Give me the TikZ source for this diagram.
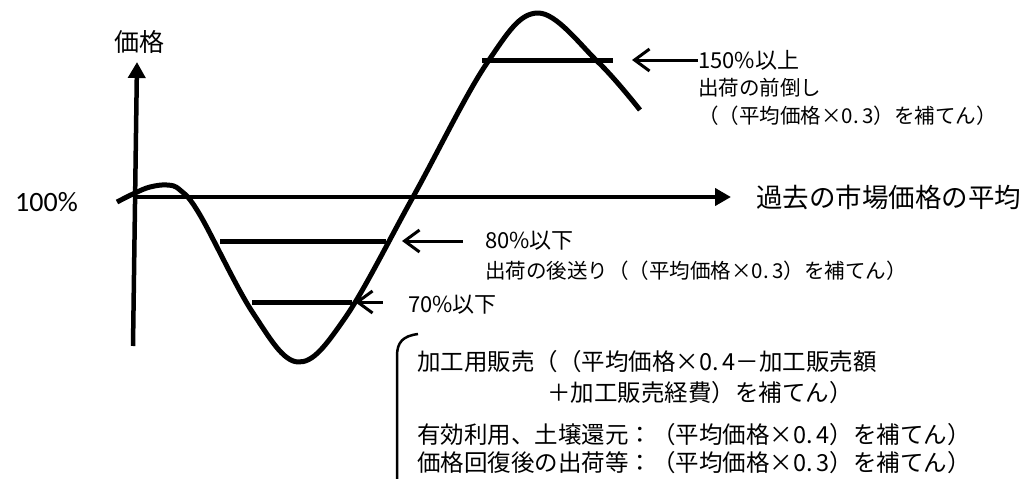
\documentclass[tikz,border=0pt]{standalone}
\usepackage{fontspec}
\setmainfont{Noto Sans CJK JP}
\newfontfamily\calib{Carlito}
\usetikzlibrary{arrows.meta}

\tikzset{
  txt/.style={inner sep=0pt, anchor=west, font=\fontsize{20.5}{24}\selectfont},
  big/.style={txt, font=\fontsize{23.5}{28}\selectfont},
  axis/.style={line width=4.5pt, -{Triangle[length=16pt,width=17pt]}},
  level/.style={line width=5pt},
  pointer/.style={line width=3pt, {Straight Barb[length=15pt,width=22pt,line width=3pt]}-},
}

\begin{document}
\begin{tikzpicture}[x=1pt, y=-1pt]
\useasboundingbox (0,0) rectangle (1029,479);

% axes
\coordinate (o) at (133,346);
\coordinate (ytip) at (137,62);
\coordinate (x0) at (133,197);
\coordinate (xtip) at (731,197);
\draw[axis] (o) -- (ytip);
\draw[axis] (x0) -- (xtip);
\node[txt, anchor=center, font=\fontsize{25}{30}\selectfont] (kakaku) at (139,42) {価格};
\node[txt, anchor=east, font=\calib\fontsize{28}{32}\selectfont] (hyaku) at (78,202) {100\%};
\node[txt, font=\fontsize{26.5}{30}\selectfont] (heikin) at (756,197) {過去の市場価格の平均};

% price curve
\draw[line width=5pt, line join=round] plot[smooth, tension=0.6] coordinates {
  (117,202) (135,193) (150,187) (167,185) (180,190) (200,215) (253,313)
  (298,362) (345,318) (413,197) (487,63) (538,13) (598,62) (640,110)};

% levels
\draw[level] (482,60) -- (613,60);
\draw[level] (220,241) -- (386,241);
\draw[level] (252,302) -- (352,302);

% 150%
\node[txt, font=\fontsize{22}{26}\selectfont] (t150) at (698,60) {150\%以上};
\node[txt] (t150b) at (698,88) {出荷の前倒し};
\node[txt] (t150c) at (698,116) {（（平均価格×0.\,3）を補てん）};
\coordinate (p150) at (632,60);
\draw[pointer] (p150) -- (t150.west);

% 80%
\node[txt, font=\fontsize{22}{26}\selectfont] (t80) at (485,241) {80\%以下};
\node[txt] (t80b) at (485,271) {出荷の後送り（（平均価格×0.\,3）を補てん）};
\coordinate (p80) at (402,241);
\draw[pointer] (p80) -- ([xshift=-22pt]t80.west);

% 70%
\node[txt, font=\fontsize{22}{26}\selectfont] (t70) at (408,305) {70\%以下};
\coordinate (p70) at (355,302);
\draw[pointer] (p70) -- ([xshift=-25pt]t70.west |- p70);

% bracket
\draw[line width=2.5pt] (418,334) .. controls (403,336) and (397,342) .. (397,356) -- (397,490);
\node[big] (kako1) at (417,362) {加工用販売（（平均価格×0.\,4－加工販売額};
\node[big] (kako2) at (547,393) {＋加工販売経費）を補てん）};
\node[big] (yuko) at (417,435) {有効利用、土壌還元：（平均価格×0.\,4）を補てん）};
\node[big] (kaifuku) at (417,463) {価格回復後の出荷等：（平均価格×0.\,3）を補てん）};

\end{tikzpicture}
\end{document}
